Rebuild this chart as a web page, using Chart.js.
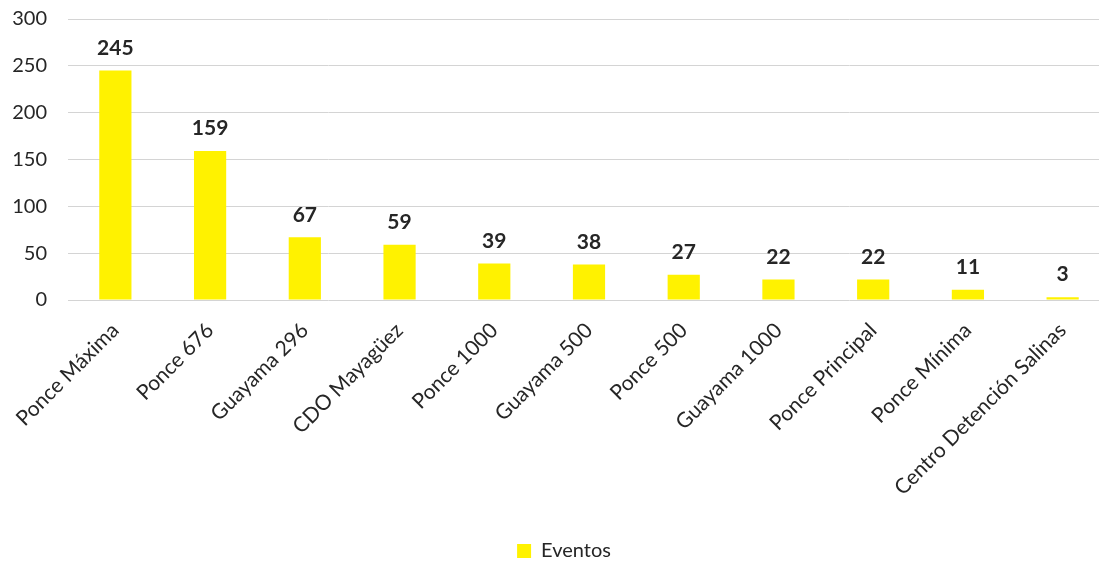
<!DOCTYPE html>
<html>
<head>
<meta charset="utf-8">
<script src="https://cdn.jsdelivr.net/npm/chart.js@4"></script>
<style>
  html, body { margin: 0; padding: 0; background: #fff; overflow: hidden; }
  /* the plot runs a little past the right edge in the picture, so the canvas is wider and clipped */
  #wrap { width: 1099px; height: 566px; overflow: hidden; }
</style>
</head>
<body>
<div id="wrap"><canvas id="chart" width="1110" height="566"></canvas></div>
<script>
// categories and counts
const categories = [
  "Ponce Máxima", "Ponce 676", "Guayama 296", "CDO Mayagüez", "Ponce 1000",
  "Guayama 500", "Ponce 500", "Guayama 1000", "Ponce Principal", "Ponce Mínima",
  "Centro Detención Salinas",
];
const eventos = [245, 159, 67, 59, 39, 38, 27, 22, 22, 11, 3];
const yTicks = [0, 50, 100, 150, 200, 250, 300];

const FONT = "Lato, 'Open Sans', sans-serif";
const TEXT = "#262626";

// draw the number above every bar
const valueLabels = {
  id: "valueLabels",
  afterDatasetsDraw(chart) {
    const ctx = chart.ctx;
    const meta = chart.getDatasetMeta(0);
    ctx.save();
    ctx.fillStyle = TEXT;
    ctx.textAlign = "center";
    ctx.textBaseline = "bottom";
    ctx.font = "bold 21px " + FONT;
    meta.data.forEach((bar, i) => {
      ctx.fillText(String(eventos[i]), bar.x, bar.y - 12);
    });
    ctx.restore();
  },
};

// legend sits a bit right and lower than chart.js would put it
const nudgeLegend = {
  id: "nudgeLegend",
  afterLayout(chart) {
    const lg = chart.legend;
    lg.left += 9;
    lg.right += 9;
    lg.top += 7;
    lg.bottom += 7;
  },
};

new Chart(document.getElementById("chart"), {
  type: "bar",
  data: {
    labels: categories,
    datasets: [
      {
        label: "Eventos",
        data: eventos,
        backgroundColor: "#FFF200",
        borderWidth: 0,
        barPercentage: 0.34,
        categoryPercentage: 1.0,
      },
    ],
  },
  options: {
    responsive: false,
    animation: false,
    layout: { padding: { top: 19, right: 0, left: 0, bottom: 2 } },
    plugins: {
      legend: {
        position: "bottom",
        labels: {
          color: TEXT,
          font: { family: FONT, size: 20 },
          boxWidth: 14,
          boxHeight: 14,
          padding: 10,
        },
      },
      tooltip: { enabled: false },
    },
    scales: {
      x: {
        grid: { display: false },
        border: { display: false },
        afterFit: (axis) => {
          axis.height = 224;
        },
        ticks: {
          color: TEXT,
          font: { family: FONT, size: 21 },
          maxRotation: 45,
          minRotation: 45,
          padding: 10,
        },
      },
      y: {
        min: 0,
        max: 300,
        afterBuildTicks: (axis) => {
          axis.ticks = yTicks.map((v) => ({ value: v }));
        },
        // fixed width, and no extra room above the top tick
        afterFit: (axis) => {
          axis.width = 68;
          axis.paddingTop = 0;
          axis.paddingBottom = 0;
        },
        grid: { color: "#d4d4d4", lineWidth: 1, drawTicks: false },
        border: { display: false },
        ticks: {
          color: TEXT,
          font: { family: FONT, size: 20 },
          padding: 21,
        },
      },
    },
  },
  plugins: [valueLabels, nudgeLegend],
});
</script>
</body>
</html>
